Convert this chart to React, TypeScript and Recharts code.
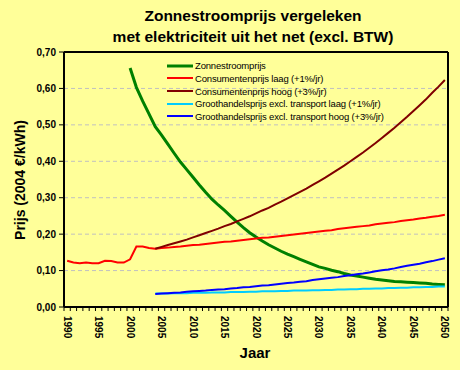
import { CartesianGrid, Line, LineChart, ReferenceLine, XAxis, YAxis } from 'recharts'

const W = 460
const H = 370
const PLOT_LEFT = 64
const PLOT_RIGHT = 448
const PLOT_TOP = 52
const PLOT_BOTTOM = 307

const FIRST_YEAR = 1990
const LAST_YEAR = 2050
const years = Array.from({ length: LAST_YEAR - FIRST_YEAR + 1 }, (_, i) => FIRST_YEAR + i)

// Excel-style category axis: tick marks sit between years, labels on the year itself.
const HALF_CAT = (PLOT_RIGHT - PLOT_LEFT) / years.length / 2

// 1990 - 2050
const consumentLaag = [
  0.127, 0.122, 0.12, 0.122, 0.12, 0.12, 0.127, 0.126, 0.122, 0.122, 0.131, 0.166, 0.166,
  0.162, 0.16, 0.162, 0.163, 0.165, 0.166, 0.168, 0.17, 0.171, 0.173, 0.175, 0.177, 0.179,
  0.18, 0.182, 0.184, 0.186, 0.188, 0.19, 0.191, 0.193, 0.195, 0.197, 0.199, 0.201, 0.203,
  0.205, 0.207, 0.209, 0.211, 0.214, 0.216, 0.218, 0.22, 0.222, 0.224, 0.227, 0.229, 0.231,
  0.233, 0.236, 0.238, 0.24, 0.243, 0.245, 0.248, 0.25, 0.253,
]

// 2000 - 2050
const zonnestroom = [
  0.656, 0.603, 0.565, 0.53, 0.495, 0.472, 0.447, 0.422, 0.398, 0.377, 0.356, 0.335, 0.315,
  0.296, 0.28, 0.265, 0.249, 0.233, 0.218, 0.204, 0.192, 0.181, 0.171, 0.162, 0.153, 0.145,
  0.138, 0.131, 0.124, 0.117, 0.11, 0.106, 0.101, 0.097, 0.092, 0.088, 0.085, 0.082, 0.079,
  0.076, 0.074, 0.072, 0.07, 0.069, 0.068, 0.067, 0.066, 0.065, 0.063, 0.062, 0.061,
]

// 2004 - 2050
const consumentHoog = [
  0.16, 0.165, 0.17, 0.175, 0.18, 0.185, 0.191, 0.197, 0.203, 0.209, 0.215, 0.222, 0.228,
  0.235, 0.242, 0.249, 0.257, 0.265, 0.272, 0.281, 0.289, 0.298, 0.307, 0.316, 0.325, 0.335,
  0.345, 0.355, 0.366, 0.377, 0.388, 0.4, 0.412, 0.424, 0.437, 0.45, 0.464, 0.478, 0.492,
  0.507, 0.522, 0.538, 0.554, 0.57, 0.588, 0.605, 0.623,
]

const groothandelLaag = [
  0.037, 0.037, 0.037, 0.038, 0.038, 0.038, 0.039, 0.039, 0.039, 0.04, 0.04, 0.04, 0.041,
  0.041, 0.041, 0.042, 0.042, 0.043, 0.043, 0.043, 0.044, 0.044, 0.045, 0.045, 0.045, 0.046,
  0.046, 0.047, 0.047, 0.048, 0.048, 0.049, 0.049, 0.05, 0.05, 0.051, 0.051, 0.052, 0.052,
  0.053, 0.053, 0.054, 0.054, 0.055, 0.055, 0.056, 0.056,
]

const groothandelHoog = [
  0.036, 0.037, 0.038, 0.039, 0.04, 0.042, 0.043, 0.044, 0.045, 0.047, 0.048, 0.049, 0.051,
  0.052, 0.054, 0.055, 0.057, 0.059, 0.06, 0.062, 0.064, 0.066, 0.067, 0.069, 0.071, 0.074,
  0.076, 0.078, 0.08, 0.082, 0.085, 0.087, 0.09, 0.092, 0.095, 0.098, 0.101, 0.103, 0.106,
  0.11, 0.113, 0.116, 0.119, 0.123, 0.126, 0.13, 0.134,
]

const SERIES = [
  { key: 'zon', name: 'Zonnestroomprijs', color: '#008000', width: 3, start: 2000, values: zonnestroom },
  { key: 'cLaag', name: 'Consumentenprijs laag (+1%/jr)', color: '#FF0000', width: 2, start: 1990, values: consumentLaag },
  { key: 'cHoog', name: 'Consumentenprijs hoog (+3%/jr)', color: '#800000', width: 2, start: 2004, values: consumentHoog },
  { key: 'gLaag', name: 'Groothandelsprijs excl. transport laag (+1%/jr)', color: '#00CCFF', width: 2, start: 2004, values: groothandelLaag },
  { key: 'gHoog', name: 'Groothandelsprijs excl. transport hoog (+3%/jr)', color: '#0000FF', width: 2, start: 2004, values: groothandelHoog },
]

const yTicks = [0, 0.1, 0.2, 0.3, 0.4, 0.5, 0.6, 0.7]
const yearBoundaries = [...years.map((y) => y - 0.5), LAST_YEAR + 0.5]

const rows = years.map((year) => {
  const row: Record<string, number | null> = { year }
  for (const s of SERIES) {
    const v = s.values[year - s.start]
    row[s.key] = v === undefined ? null : v
  }
  return row
})

const FONT = 'Arial, "Liberation Sans", sans-serif'

function YearTick({ x, y, payload }: any) {
  const year = payload.value + 0.5
  if (year % 5 !== 0 || year > LAST_YEAR) return <g />
  const cx = x + HALF_CAT
  return (
    <text
      x={cx}
      y={y}
      dy="0.35em"
      transform={`rotate(90, ${cx}, ${y})`}
      fontFamily={FONT}
      fontSize={10}
      fontWeight="bold"
      fill="#000"
    >
      {year}
    </text>
  )
}

export default function App() {
  return (
    <div
      style={{
        position: 'absolute',
        left: 0,
        top: 0,
        width: W,
        height: H,
        background: '#FFFF99',
        fontFamily: FONT,
        overflow: 'hidden',
      }}
    >
      <div style={{ position: 'absolute', left: 0, top: 0 }}>
        <LineChart width={W} height={H} data={rows} margin={{ top: PLOT_TOP, right: W - PLOT_RIGHT, bottom: 0, left: 0 }}>
          <CartesianGrid vertical={false} stroke="#C0C0C0" strokeDasharray="4 3" />
          <XAxis
            dataKey="year"
            type="number"
            domain={[FIRST_YEAR - 0.5, LAST_YEAR + 0.5]}
            allowDataOverflow
            ticks={yearBoundaries}
            interval={0}
            height={H - PLOT_BOTTOM}
            tick={<YearTick />}
            tickSize={4}
            tickMargin={5}
            tickLine={{ stroke: '#000' }}
            axisLine={{ stroke: '#000', strokeWidth: 2 }}
          />
          <YAxis
            type="number"
            domain={[0, 0.7]}
            allowDataOverflow
            ticks={yTicks}
            interval={0}
            width={PLOT_LEFT}
            tickFormatter={(v: number) => v.toFixed(2).replace('.', ',')}
            tick={{ fill: '#000', fontSize: 10, fontWeight: 'bold', fontFamily: FONT }}
            tickSize={5}
            tickMargin={3}
            tickLine={{ stroke: '#000' }}
            axisLine={{ stroke: '#000', strokeWidth: 2 }}
          />
          <ReferenceLine y={0.7} stroke="#000" strokeWidth={2} />
          <ReferenceLine x={LAST_YEAR + 0.5} stroke="#000" strokeWidth={2} />
          {SERIES.map((s) => (
            <Line
              key={s.key}
              dataKey={s.key}
              name={s.name}
              type="linear"
              stroke={s.color}
              strokeWidth={s.width}
              dot={false}
              activeDot={false}
              isAnimationActive={false}
            />
          ))}
        </LineChart>
      </div>

      <div
        style={{
          position: 'absolute',
          left: 46,
          top: 5,
          width: 414,
          textAlign: 'center',
          fontSize: 15.5,
          fontWeight: 'bold',
          lineHeight: '21px',
          color: '#000',
        }}
      >
        Zonnestroomprijs vergeleken
        <br />
        met elektriciteit uit het net (excl. BTW)
      </div>

      {/* legend, no frame, sits inside the plot */}
      <div style={{ position: 'absolute', left: 167, top: 59.5 }}>
        {SERIES.map((s) => (
          <div key={s.key} style={{ display: 'flex', alignItems: 'center', height: 12.65 }}>
            <svg width={26} height={6} style={{ marginRight: 2 }}>
              <line x1={0} x2={26} y1={3} y2={3} stroke={s.color} strokeWidth={s.width} />
            </svg>
            <span style={{ fontSize: 9.5, letterSpacing: -0.17, color: '#000', whiteSpace: 'nowrap' }}>
              {s.name}
            </span>
          </div>
        ))}
      </div>

      <div
        style={{
          position: 'absolute',
          left: 20 - 100,
          top: 180 - 10,
          width: 200,
          height: 20,
          lineHeight: '20px',
          textAlign: 'center',
          transform: 'rotate(-90deg)',
          fontSize: 14,
          fontWeight: 'bold',
          color: '#000',
          whiteSpace: 'nowrap',
        }}
      >
        Prijs (2004 €/kWh)
      </div>

      <div
        style={{
          position: 'absolute',
          left: 205,
          width: 100,
          top: 343,
          textAlign: 'center',
          fontSize: 15,
          fontWeight: 'bold',
          lineHeight: '20px',
          color: '#000',
        }}
      >
        Jaar
      </div>
    </div>
  )
}
